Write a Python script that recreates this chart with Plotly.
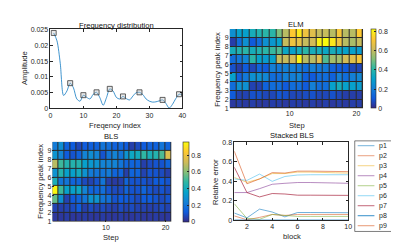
import plotly.graph_objects as go

FONT = "Liberation Sans, Arial, sans-serif"
AX = "#262626"
W, H = 399, 242

# ---------------- data ----------------
freq_index = list(range(1, 41))
amplitude = [0.0239, 0.0214, 0.0142, 0.0041, 0.0055, 0.0080, 0.0065, 0.0030, 0.0023, 0.0042,
             0.0035, 0.0030, 0.0045, 0.0051, 0.0034, 0.0010, 0.0034, 0.0062, 0.0055, 0.0035,
             0.0030, 0.0038, 0.0031, 0.0027, 0.0039, 0.0050, 0.0051, 0.0044, 0.0030, 0.0023,
             0.0020, 0.0021, 0.0024, 0.0027, 0.0016, 0.0001, 0.0013, 0.0031, 0.0045, 0.0043]
peak_index = [1, 6, 10, 14, 18, 22, 27, 34, 39]
peak_amp = [amplitude[i - 1] for i in peak_index]

step_edges = list(range(1, 22))      # 20 steps (cell edges)
peak_edges = list(range(1, 11))      # 9 frequency peaks (cell edges)

elm_z = [
    [0.03, 0.04, 0.03, 0.04, 0.03, 0.03, 0.04, 0.04, 0.03, 0.04, 0.04, 0.03, 0.04, 0.03, 0.04, 0.03, 0.04, 0.03, 0.04, 0.04],
    [0.10, 0.05, 0.05, 0.08, 0.08, 0.06, 0.06, 0.09, 0.08, 0.06, 0.06, 0.07, 0.08, 0.06, 0.06, 0.08, 0.06, 0.04, 0.04, 0.04],
    [0.15, 0.25, 0.25, 0.05, 0.05, 0.12, 0.15, 0.15, 0.10, 0.15, 0.15, 0.10, 0.20, 0.15, 0.15, 0.30, 0.35, 0.30, 0.30, 0.28],
    [0.30, 0.12, 0.18, 0.25, 0.25, 0.22, 0.15, 0.15, 0.20, 0.20, 0.22, 0.12, 0.10, 0.15, 0.15, 0.12, 0.20, 0.15, 0.20, 0.22],
    [0.08, 0.04, 0.10, 0.06, 0.12, 0.10, 0.20, 0.18, 0.20, 0.20, 0.18, 0.15, 0.20, 0.18, 0.18, 0.12, 0.10, 0.10, 0.06, 0.06],
    [0.15, 0.18, 0.22, 0.40, 0.30, 0.28, 0.30, 0.60, 0.60, 0.62, 0.80, 0.58, 0.58, 0.65, 0.45, 0.55, 0.55, 0.62, 0.65, 0.70],
    [0.35, 0.38, 0.40, 0.35, 0.38, 0.40, 0.42, 0.45, 0.32, 0.30, 0.35, 0.40, 0.35, 0.35, 0.32, 0.35, 0.32, 0.30, 0.30, 0.28],
    [0.04, 0.15, 0.25, 0.10, 0.15, 0.25, 0.27, 0.30, 0.60, 0.68, 0.66, 0.60, 0.62, 0.80, 0.82, 0.78, 0.68, 0.58, 0.56, 0.60],
    [0.25, 0.30, 0.30, 0.35, 0.38, 0.40, 0.40, 0.50, 0.58, 0.72, 0.78, 0.68, 0.65, 0.60, 0.60, 0.58, 0.70, 0.58, 0.58, 0.72],
]

bls_z = [
    [0.03, 0.03, 0.04, 0.03, 0.03, 0.04, 0.03, 0.03, 0.04, 0.03, 0.03, 0.04, 0.03, 0.03, 0.04, 0.03, 0.03, 0.04, 0.03, 0.03],
    [0.06, 0.05, 0.06, 0.08, 0.12, 0.05, 0.08, 0.06, 0.08, 0.06, 0.05, 0.08, 0.06, 0.08, 0.06, 0.06, 0.05, 0.06, 0.08, 0.06],
    [0.55, 0.28, 0.06, 0.12, 0.15, 0.20, 0.30, 0.30, 0.20, 0.18, 0.10, 0.12, 0.12, 0.10, 0.08, 0.12, 0.12, 0.10, 0.08, 0.10],
    [0.95, 0.50, 0.35, 0.35, 0.38, 0.25, 0.15, 0.15, 0.18, 0.10, 0.08, 0.08, 0.15, 0.10, 0.10, 0.15, 0.10, 0.08, 0.10, 0.08],
    [0.42, 0.20, 0.20, 0.15, 0.15, 0.08, 0.06, 0.10, 0.20, 0.05, 0.04, 0.05, 0.15, 0.10, 0.10, 0.10, 0.08, 0.12, 0.12, 0.10],
    [0.30, 0.45, 0.35, 0.35, 0.40, 0.30, 0.22, 0.20, 0.20, 0.22, 0.15, 0.15, 0.05, 0.15, 0.15, 0.06, 0.10, 0.10, 0.08, 0.05],
    [0.68, 0.50, 0.45, 0.45, 0.45, 0.35, 0.32, 0.30, 0.25, 0.25, 0.25, 0.20, 0.15, 0.15, 0.15, 0.05, 0.08, 0.10, 0.10, 0.15],
    [0.30, 0.25, 0.12, 0.10, 0.14, 0.25, 0.28, 0.25, 0.10, 0.20, 0.25, 0.20, 0.30, 0.38, 0.40, 0.48, 0.42, 0.45, 0.52, 0.75],
    [0.22, 0.28, 0.14, 0.12, 0.07, 0.12, 0.13, 0.14, 0.20, 0.18, 0.14, 0.16, 0.12, 0.05, 0.08, 0.12, 0.14, 0.14, 0.20, 0.15],
]

blocks = list(range(1, 11))
series_names = ["p1", "p2", "p3", "p4", "p5", "p6", "p7", "p8", "p9"]
p1 = [0.075, 0.025, 0.115, 0.085, 0.035, 0.080, 0.080, 0.080, 0.078, 0.078]
p2 = [0.045, 0.005, 0.030, 0.060, 0.050, 0.060, 0.060, 0.060, 0.060, 0.060]
p3 = [0.440, 0.390, 0.425, 0.480, 0.480, 0.495, 0.495, 0.495, 0.488, 0.485]
p4 = [0.285, 0.285, 0.325, 0.370, 0.380, 0.388, 0.388, 0.388, 0.383, 0.380]
p5 = [0.170, 0.020, 0.010, 0.060, 0.050, 0.040, 0.040, 0.040, 0.040, 0.040]
p6 = [0.425, 0.410, 0.475, 0.400, 0.450, 0.465, 0.468, 0.468, 0.468, 0.468]
p7 = [0.545, 0.285, 0.240, 0.275, 0.270, 0.258, 0.258, 0.258, 0.256, 0.256]
p8 = [0.002, 0.002, 0.002, 0.002, 0.002, 0.002, 0.002, 0.002, 0.002, 0.002]
p9 = [0.710, 0.375, 0.425, 0.490, 0.485, 0.505, 0.505, 0.505, 0.503, 0.500]
series_values = [p1, p2, p3, p4, p5, p6, p7, p8, p9]
series_colors = ["rgba(0,114,189,0.55)", "rgba(217,83,25,0.55)", "rgba(237,177,32,0.55)",
                 "rgba(126,47,142,0.55)", "rgba(119,172,48,0.55)", "rgba(77,190,238,0.6)",
                 "rgba(162,20,47,0.65)", "rgba(0,114,189,0.8)", "rgba(217,83,25,0.6)"]

parula = [[0.0, "#352A87"], [0.125, "#0F5CDD"], [0.25, "#1481D6"], [0.375, "#06A4CA"],
          [0.5, "#2EB7A4"], [0.625, "#87BF77"], [0.75, "#D1BB59"], [0.875, "#FEC832"],
          [1.0, "#F9FB0E"]]


def px(x):
    return x / W


def py(y):
    return 1 - y / H


fig = go.Figure()

# top-left: frequency distribution
fig.add_trace(go.Scatter(x=freq_index, y=amplitude, mode="lines",
                         line=dict(color="rgba(0,114,189,0.75)", width=1, shape="spline", smoothing=0.8),
                         xaxis="x", yaxis="y", showlegend=False, hoverinfo="skip"))
fig.add_trace(go.Scatter(x=peak_index, y=peak_amp, mode="markers",
                         marker=dict(symbol="square", size=5, color="rgba(190,190,190,0.35)",
                                     line=dict(color="#3a3a3a", width=0.8)),
                         xaxis="x", yaxis="y", showlegend=False))

# top-right: ELM heatmap
fig.add_trace(go.Heatmap(z=elm_z, x=step_edges, y=peak_edges, colorscale=parula, zmin=0, zmax=0.82,
                         xgap=1, ygap=1, xaxis="x2", yaxis="y2",
                         colorbar=dict(x=px(366.5), xanchor="left", xpad=0, ypad=0, thickness=5,
                                       y=py(99.3), yanchor="bottom", len=81.5 / H, lenmode="fraction",
                                       tickvals=[0, 0.2, 0.4, 0.6, 0.8], ticktext=["0", "0.2", "0.4", "0.6", "0.8"],
                                       ticks="inside", ticklen=2, tickcolor=AX, outlinecolor=AX, outlinewidth=0.6,
                                       tickfont=dict(size=7, color=AX, family=FONT))))

# bottom-left: BLS heatmap
fig.add_trace(go.Heatmap(z=bls_z, x=step_edges, y=peak_edges, colorscale=parula, zmin=0, zmax=0.96,
                         xgap=1, ygap=1, xaxis="x3", yaxis="y3",
                         colorbar=dict(x=px(175.7), xanchor="left", xpad=0, ypad=0, thickness=6,
                                       y=py(216), yanchor="bottom", len=82.3 / H, lenmode="fraction",
                                       tickvals=[0, 0.2, 0.4, 0.6, 0.8], ticktext=["0", "0.2", "0.4", "0.6", "0.8"],
                                       ticks="inside", ticklen=2, tickcolor=AX, outlinecolor=AX, outlinewidth=0.6,
                                       tickfont=dict(size=7, color=AX, family=FONT))))

# bottom-right: stacked BLS lines
for name, vals, col in zip(series_names, series_values, series_colors):
    fig.add_trace(go.Scatter(x=blocks, y=vals, mode="lines", name=name,
                             line=dict(color=col, width=1), xaxis="x4", yaxis="y4", showlegend=False))

tickfont = dict(size=7, color=AX, family=FONT)
box = dict(showline=True, linecolor=AX, linewidth=0.6, mirror="ticks", ticks="inside", ticklen=2.5,
           tickcolor=AX, tickwidth=0.6, showgrid=False, zeroline=False, tickfont=tickfont)
hm = dict(showline=False, ticks="inside", ticklen=2, tickcolor=AX, tickwidth=0.6, showgrid=False,
          zeroline=False, tickfont=tickfont)

fig.update_layout(
    width=W, height=H, margin=dict(l=0, r=0, t=0, b=0),
    paper_bgcolor="white", plot_bgcolor="white", showlegend=False,
    font=dict(family=FONT, color=AX),
    xaxis=dict(domain=[px(41), px(175)], range=[0, 40], tickvals=[0, 10, 20, 30, 40], anchor="y", **box),
    yaxis=dict(domain=[py(99.3), py(18)], range=[0, 0.025],
               tickvals=[0, 0.005, 0.01, 0.015, 0.02, 0.025],
               ticktext=["0", "0.005", "0.01", "0.015", "0.02", "0.025"], anchor="x", **box),
    xaxis2=dict(domain=[px(223), px(358.5)], range=[1, 21], tickvals=[10, 20], anchor="y2", **hm),
    yaxis2=dict(domain=[py(99.3), py(17.5)], range=[1, 10], tickvals=list(range(1, 10)), anchor="x2", **hm),
    xaxis3=dict(domain=[px(43), px(164)], range=[1, 21], tickvals=[10, 20], anchor="y3", **hm),
    yaxis3=dict(domain=[py(216), py(133.7)], range=[1, 10], tickvals=list(range(1, 10)), anchor="x3", **hm),
    xaxis4=dict(domain=[px(227.7), px(343.3)], range=[1, 10], tickvals=[2, 4, 6, 8, 10], anchor="y4", **box),
    yaxis4=dict(domain=[py(214.5), py(134.3)], range=[0, 0.8], tickvals=[0, 0.2, 0.4, 0.6, 0.8],
                ticktext=["0", "0.2", "0.4", "0.6", "0.8"], anchor="x4", **box),
)

shapes = [
    dict(type="rect", xref="x2", yref="y2", x0=1, x1=21, y0=1, y1=10, fillcolor="#2a2a2a",
         line=dict(width=0), layer="below"),
    dict(type="rect", xref="x3", yref="y3", x0=1, x1=21, y0=1, y1=10, fillcolor="#2a2a2a",
         line=dict(width=0), layer="below"),
    # legend box
    dict(type="rect", xref="paper", yref="paper", x0=px(350), x1=px(397), y0=py(226), y1=py(132.7),
         line=dict(color=AX, width=0.6), fillcolor="white"),
]
annotations = []
for i, (name, col) in enumerate(zip(series_names, series_colors)):
    yy = 137.7 + i * 10.3
    shapes.append(dict(type="line", xref="paper", yref="paper", x0=px(353), x1=px(370),
                       y0=py(yy), y1=py(yy), line=dict(color=col, width=1)))
    annotations.append(dict(text=name, x=px(372.5), y=py(yy), xref="paper", yref="paper",
                            xanchor="left", yanchor="middle", showarrow=False,
                            font=dict(size=7, color=AX, family=FONT)))


def label(text, x, y, angle=0, size=7.6, color="#222222"):
    annotations.append(dict(text=text, x=px(x), y=py(y), xref="paper", yref="paper",
                            xanchor="center", yanchor="middle", showarrow=False, textangle=angle,
                            font=dict(size=size, color=color, family=FONT)))


label("Frequency distribution", 108, 13.5, color="#111111")
label("Freqency index", 107, 117.3, color=AX)
label("Amplitude", 15, 58, angle=-90, color=AX)
label("ELM", 290.5, 12.5, color="#111111")
label("Step", 291, 117.3, color=AX)
label("Frequency peak index", 210.7, 59, angle=-90, color=AX)
label("BLS", 103, 128.3, color="#111111")
label("Step", 103, 232.7, color=AX)
label("Frequency peak index", 30.7, 174.5, angle=-90, color=AX)
label("Stacked BLS", 286, 127.5, color="#111111")
label("block", 286.5, 231, color=AX)
label("Relative error", 209.3, 175, angle=-90, color=AX)

fig.update_layout(shapes=shapes, annotations=annotations)
fig.write_html("out.html")
